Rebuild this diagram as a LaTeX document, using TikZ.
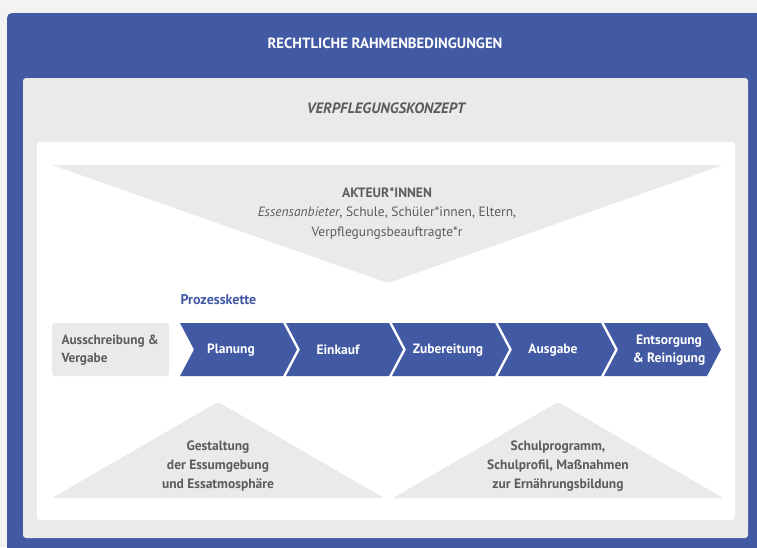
\documentclass[tikz,border=0pt]{standalone}
\usepackage{fontspec}
\setmainfont{PT Sans}
\definecolor{rahmenblau}{RGB}{66,89,164}
\definecolor{konzeptgrau}{RGB}{234,234,234}
\definecolor{textgrau}{RGB}{92,92,92}
\definecolor{hintergrund}{RGB}{243,243,243}

\begin{document}
\begin{tikzpicture}[x=1pt,y=-1pt,
  kette/.style={fill=rahmenblau},
  kettentext/.style={text=white,font=\bfseries\fontsize{13.5}{18.5}\selectfont,align=center},
  graufeld/.style={fill=konzeptgrau},
  grautext/.style={text=textgrau,font=\bfseries\fontsize{13.5}{19}\selectfont,align=center}]
\useasboundingbox (0,0) rectangle (757,547);
\clip (0,0) rectangle (757,547);
\fill[hintergrund] (0,0) rectangle (757,547);

% Rahmen
\fill[rahmenblau,rounded corners=5pt] (7,13) rectangle (775,565);
\fill[konzeptgrau,rounded corners=3pt] (23,78) rectangle (748,538);
\fill[white,rounded corners=3pt] (37,142) rectangle (735,520);
\node[text=white,font=\bfseries\fontsize{14.8}{17}\selectfont] (rahmen) at (385,43) {RECHTLICHE RAHMENBEDINGUNGEN};
\node[text=textgrau,font=\bfseries\itshape\fontsize{15}{17}\selectfont] (konzept) at (386,108) {VERPFLEGUNGSKONZEPT};

% Akteure
\fill[graufeld,rounded corners=2pt] (52,165) -- (723,165) -- (388,283) -- cycle;
\node[text=textgrau,font=\fontsize{13.5}{19.5}\selectfont,align=center] (akteure) at (387,213)
  {\textbf{AKTEUR*INNEN}\\\textit{Essensanbieter}, Schule, Schüler*innen, Eltern,\\Verpflegungsbeauftragte*r};

% Prozesskette
\node[anchor=west,text=rahmenblau,font=\bfseries\fontsize{14}{16}\selectfont] (kette) at (177,300) {Prozesskette};
\fill[graufeld,rounded corners=3pt] (52,323) rectangle (169,376);
\node[anchor=west,grautext,align=left,font=\bfseries\fontsize{13.3}{18.5}\selectfont] (vergabe) at (58,350) {Ausschreibung \&\\Vergabe};
\foreach \i/\name/\xt/\txt in {0/planung/231/Planung,1/einkauf/338/Einkauf,2/zubereitung/448/Zubereitung,
  3/ausgabe/553/Ausgabe,4/entsorgung/669/{Entsorgung\\\& Reinigung}}{
  \fill[kette] ({180+106*\i},323) -- ++(103,0) -- ++(14,26.5) -- ++(-14,26.5) -- ++(-103,0) -- ++(14,-26.5) -- cycle;
  \node[kettentext] (\name) at (\xt,350) {\txt};
}

% Rahmenfelder unten
\fill[graufeld,rounded corners=2pt] (52,498) -- (218,402) -- (384,498) -- cycle;
\fill[graufeld,rounded corners=2pt] (393,498) -- (558,402) -- (723,498) -- cycle;
\node[grautext] (essumgebung) at (218,466) {Gestaltung\\der Essumgebung\\und Essatmosphäre};
\node[grautext] (schulprogramm) at (558,466) {Schulprogramm,\\Schulprofil, Maßnahmen\\zur Ernährungsbildung};
\end{tikzpicture}
\end{document}
